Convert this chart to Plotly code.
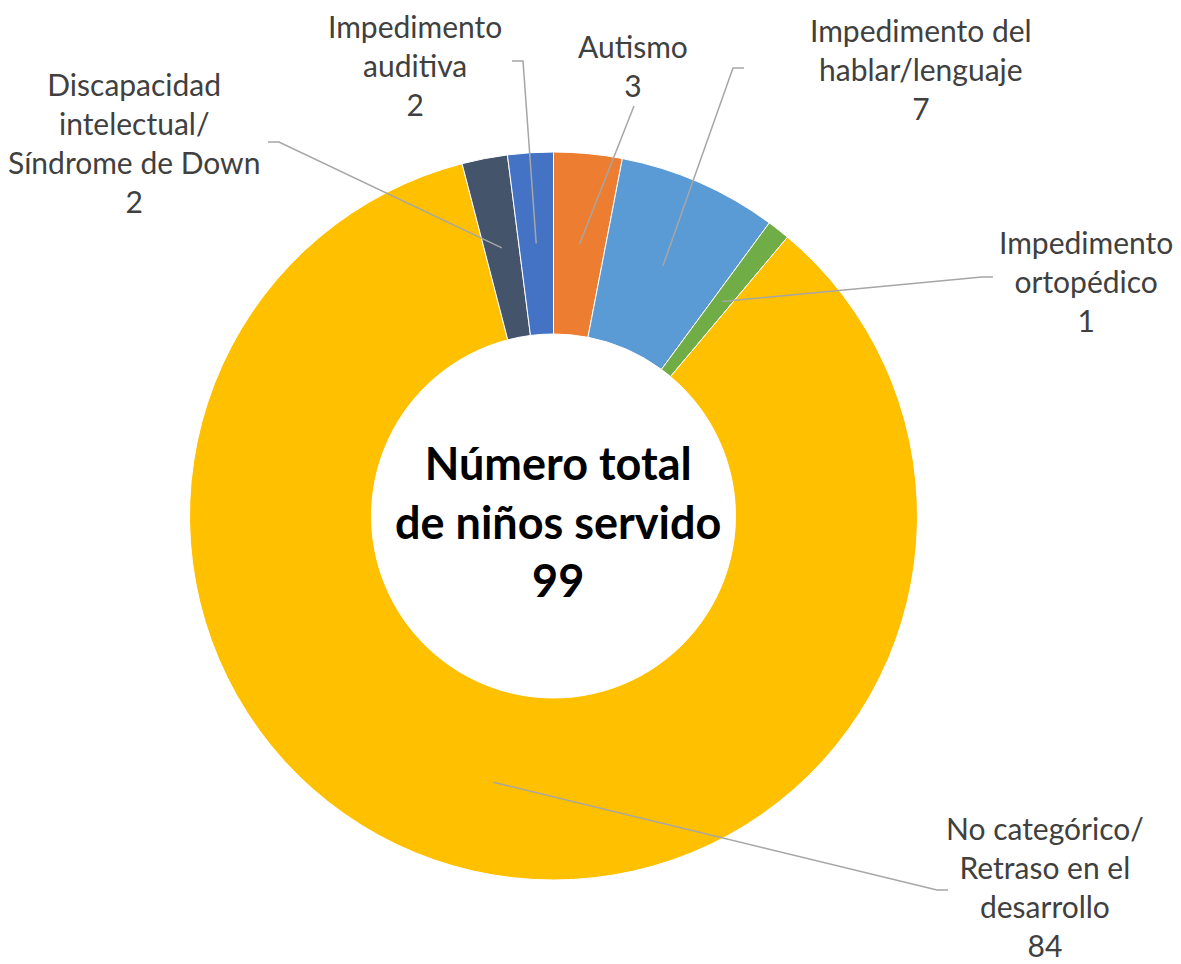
import math
import plotly.graph_objects as go

# ---- data ----
categories = ["Autismo", "Impedimento del hablar/lenguaje", "Impedimento ortopédico",
              "No categórico/ Retraso en el desarrollo",
              "Discapacidad intelectual/ Síndrome de Down", "Impedimento auditiva"]
label_text = ["Autismo", "Impedimento del<br>hablar/lenguaje", "Impedimento<br>ortopédico",
              "No categórico/<br>Retraso en el<br>desarrollo",
              "Discapacidad<br>intelectual/<br>Síndrome de Down", "Impedimento<br>auditiva"]
values = [3, 7, 1, 84, 2, 2]
colors = ["#ED7D31", "#5B9BD5", "#70AD47", "#FFC000", "#44546A", "#4472C4"]
center_title = "Número total<br>de niños servido"

# ---- layout geometry (window pixels) ----
OFF = 8  # default page body margin
W, H = 1181 - OFF, 964 - OFF
CX, CY, R = 553.5, 516, 364
HOLE = 0.5

# label block centers and leader start points (layout positions, window pixels)
label_pos = [(633, 65), (921, 69), (1086, 281), (1045, 886), (134, 142), (415, 65)]
leader_start = [
    [(634, 106)],
    [(744, 68), (733, 68)],
    [(993, 277), (982, 277)],
    [(948, 890), (937, 890)],
    [(268, 142), (279, 142)],
    [(512, 61), (523, 61)],
]

def px(x):
    return (x - OFF) / W

def py(y):
    return 1 - (y - OFF) / H

fig = go.Figure()
fig.add_trace(go.Pie(
    labels=categories, values=values, hole=HOLE, sort=False,
    direction="clockwise", rotation=0,
    marker=dict(colors=colors, line=dict(color="white", width=1)),
    textinfo="none", hoverinfo="label+value", showlegend=False,
    domain=dict(x=[px(CX - R), px(CX + R)], y=[py(CY + R), py(CY - R)]),
))

total = sum(values)
annotations = []
shapes = []
cum = 0
r_mid = R * (1 + HOLE) / 2
for i, v in enumerate(values):
    mid = (cum + v / 2) / total * 2 * math.pi
    cum += v
    ex = CX + r_mid * math.sin(mid)
    ey = CY - r_mid * math.cos(mid)
    pts = leader_start[i] + [(ex, ey)]
    path = "M " + " L ".join(f"{px(a):.5f},{py(b):.5f}" for a, b in pts)
    shapes.append(dict(type="path", xref="paper", yref="paper", path=path,
                       line=dict(color="#A6A6A6", width=1.5)))
    lx, ly = label_pos[i]
    annotations.append(dict(
        x=px(lx), y=py(ly), xref="paper", yref="paper", xanchor="center", yanchor="middle",
        text=f"{label_text[i]}<br>{v}", showarrow=False, align="center", borderpad=0,
        font=dict(family="Lato, Carlito, sans-serif", size=30, color="#404040")))

annotations.append(dict(
    x=px(558), y=py(521), xref="paper", yref="paper", xanchor="center", yanchor="middle",
    text=f"<b>{center_title}<br>{total}</b>", showarrow=False, align="center",
    font=dict(family="Lato, Carlito, sans-serif", size=45, color="#000000")))

fig.update_layout(
    width=W, height=H, margin=dict(l=0, r=0, t=0, b=0),
    paper_bgcolor="white", plot_bgcolor="white",
    annotations=annotations, shapes=shapes,
)
fig.write_html("out.html")
